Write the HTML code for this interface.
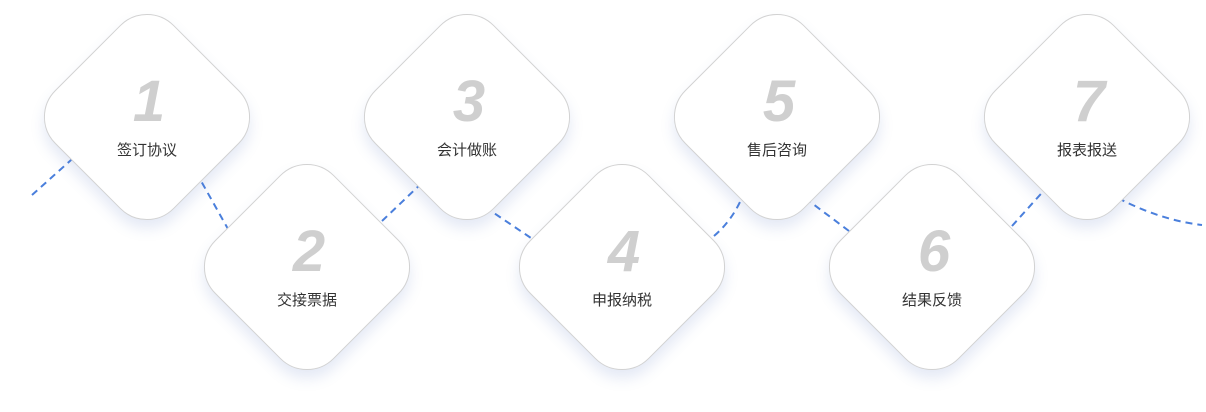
<!DOCTYPE html>
<html><head><meta charset="utf-8"><style>
html,body{margin:0;padding:0;background:#fff;width:1206px;height:412px;overflow:hidden;position:relative;font-family:"Liberation Sans","Noto Sans CJK SC",sans-serif}
svg{position:absolute;left:0;top:0}
.d{position:absolute;width:168px;height:168px;margin:-84px 0 0 -84px;transform:rotate(45deg);background:#fff;border:1px solid #d2d2d2;border-radius:38px;box-sizing:border-box;box-shadow:6px 6px 14px rgba(90,120,190,0.16)}
.t{position:absolute;width:200px;margin-left:-100px;text-align:center}
.n{font-size:58px;font-style:italic;font-weight:bold;color:#cfcfcf;line-height:56px;height:56px}
.l{font-size:15px;color:#333;margin-top:9px}
</style></head><body>
<svg width="1206" height="412"><g stroke="#4a7fdc" stroke-width="2" stroke-dasharray="7,5" fill="none">
<path d="M32,195 L80,152"/>
<path d="M196,172 L228,229"/>
<path d="M382,221 L425,180"/>
<path d="M485,207 L531,238"/>
<path d="M714,236 Q735,218 745,190"/>
<path d="M805,198 L849,231"/>
<path d="M1012,226 L1048,186"/>
<path d="M1118,198 Q1160,220 1202,225"/>
</g></svg>
<div class="d" style="left:147px;top:117px"></div>
<div class="d" style="left:307px;top:267px"></div>
<div class="d" style="left:467px;top:117px"></div>
<div class="d" style="left:622px;top:267px"></div>
<div class="d" style="left:777px;top:117px"></div>
<div class="d" style="left:932px;top:267px"></div>
<div class="d" style="left:1087px;top:117px"></div>
<div class="t" style="left:149px;top:74px"><div class="n">1</div><div class="l" style="margin-left:-4px">签订协议</div></div>
<div class="t" style="left:309px;top:224px"><div class="n">2</div><div class="l" style="margin-left:-4px">交接票据</div></div>
<div class="t" style="left:469px;top:74px"><div class="n">3</div><div class="l" style="margin-left:-4px">会计做账</div></div>
<div class="t" style="left:624px;top:224px"><div class="n">4</div><div class="l" style="margin-left:-4px">申报纳税</div></div>
<div class="t" style="left:779px;top:74px"><div class="n">5</div><div class="l" style="margin-left:-4px">售后咨询</div></div>
<div class="t" style="left:934px;top:224px"><div class="n">6</div><div class="l" style="margin-left:-4px">结果反馈</div></div>
<div class="t" style="left:1089px;top:74px"><div class="n">7</div><div class="l" style="margin-left:-4px">报表报送</div></div>
</body></html>
